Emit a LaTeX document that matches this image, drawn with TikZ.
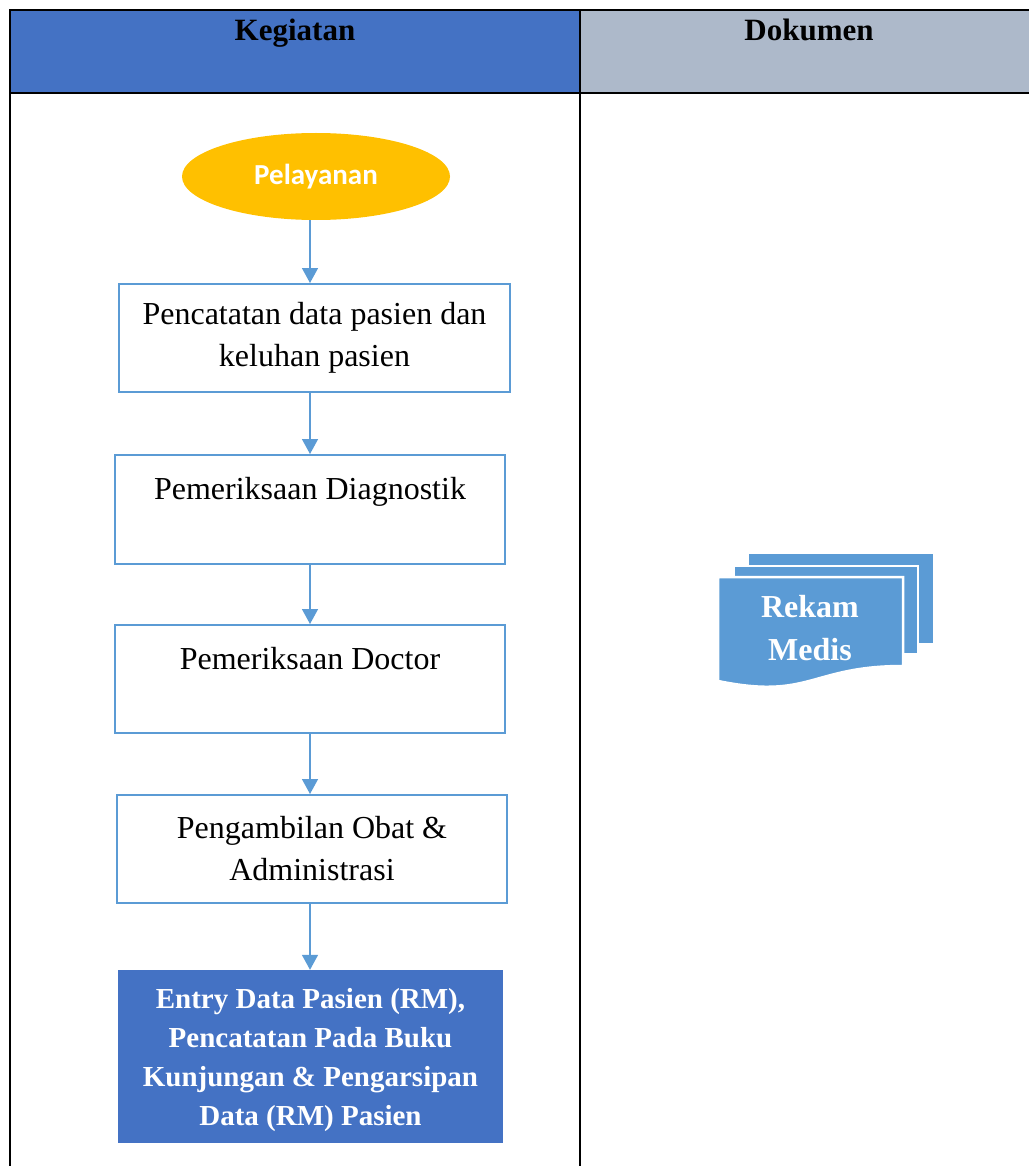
\documentclass[tikz,border=0pt]{standalone}
\usepackage{fontspec}
\setmainfont{Liberation Serif}
\newfontfamily\calibri{Carlito}
\usetikzlibrary{shapes.geometric,arrows.meta}
\definecolor{hdrblue}{HTML}{4472C4}
\definecolor{hdrgrey}{HTML}{ADB9CA}
\definecolor{lblue}{HTML}{5B9BD5}
\definecolor{gold}{HTML}{FFC000}
\begin{document}
\begin{tikzpicture}[x=1pt,y=-1pt,
  stepbox/.style={draw=lblue,line width=2pt,fill=white,align=center,inner sep=0pt,
    font=\fontsize{32}{42}\selectfont},
  endbox/.style={fill=hdrblue,inner sep=0pt},
  endtext/.style={text=white,align=center,inner sep=0pt,
    font=\bfseries\fontsize{29}{39}\selectfont},
  arr/.style={draw=lblue,line width=1.5pt,-{Triangle[width=16pt,length=15pt]}},
  tline/.style={line width=2.5pt,black},
  hdrtext/.style={font=\bfseries\fontsize{31}{38}\selectfont,anchor=base}]
\useasboundingbox (0,0) rectangle (1029,1166);
% table
\fill[hdrblue] (10,10) rectangle (580,93);
\fill[hdrgrey] (580,10) rectangle (1029,93);
\draw[tline] (10,1166) -- (10,10) -- (1029,10);
\draw[tline] (10,93) -- (1029,93);
\draw[tline] (580,10) -- (580,1166);
\node[hdrtext] (hk) at (295,41) {Kegiatan};
\node[hdrtext] (hd) at (809,41) {Dokumen};
% flow
\node[ellipse,fill=gold,minimum width=268pt,minimum height=87pt,inner sep=0pt,
  text=white,font=\calibri\bfseries\fontsize{29}{35}\selectfont] (start) at (316,176.5) {Pelayanan};
\node[stepbox,minimum width=391pt,minimum height=108pt] (b1) at (314.5,338) {Pencatatan data pasien dan\\keluhan pasien};
\node[stepbox,minimum width=390pt,minimum height=109pt] (b2) at (310,509.5) {Pemeriksaan Diagnostik\\\mbox{}};
\node[stepbox,minimum width=390pt,minimum height=108pt] (b3) at (310,679) {Pemeriksaan Doctor\\\mbox{}};
\node[stepbox,minimum width=390pt,minimum height=108pt] (b4) at (312,849) {Pengambilan Obat \&\\Administrasi};
\node[endbox,minimum width=385pt,minimum height=173pt] (b5) at (310.5,1056.5) {};
\node[endtext] (b5t) at (310.5,1060) {Entry Data Pasien (RM),\\Pencatatan Pada Buku\\Kunjungan \& Pengarsipan\\Data (RM) Pasien};
\coordinate (ax) at (310,0);
\draw[arr] (start.south -| ax) -- (b1.north -| ax);
\draw[arr] (b1.south -| ax) -- (b2.north -| ax);
\draw[arr] (b2.south -| ax) -- (b3.north -| ax);
\draw[arr] (b3.south -| ax) -- (b4.north -| ax);
\draw[arr] (b4.south -| ax) -- (b5.north -| ax);
% multi-document
\fill[lblue] (749,554) rectangle (933,643);
\filldraw[fill=lblue,draw=white,line width=2.5pt] (734,566) rectangle (918,654);
\filldraw[fill=lblue,draw=white,line width=2.5pt] (718,577) -- (903,577) -- (903,666)
  .. controls (810.5,666) and (810.5,700) .. (718,681) -- cycle;
\node[font=\bfseries\fontsize{32}{43}\selectfont,text=white,align=center] (rm) at (810,628.5) {Rekam\\Medis};
\end{tikzpicture}
\end{document}
